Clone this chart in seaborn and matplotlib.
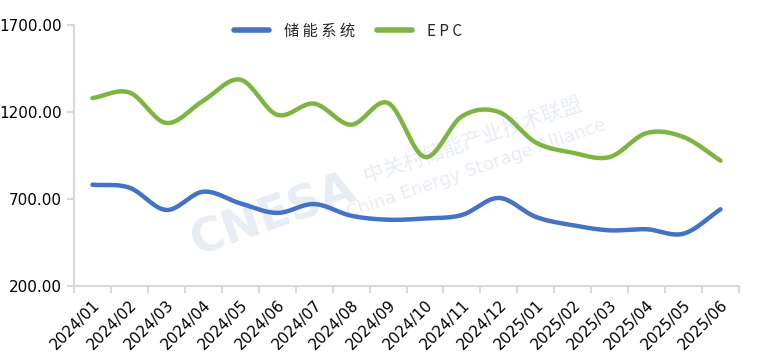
"""
储能系统 / EPC 中标均价走势图
"""

import numpy as np
import pandas as pd
import matplotlib
matplotlib.use('Agg')
import matplotlib.pyplot as plt
from matplotlib.ticker import FixedLocator
import seaborn as sns

sns.set_theme(style='white')
plt.rcParams['font.family'] = ['Noto Sans CJK SC', 'DejaVu Sans']

# 数据
months = ['2024/01', '2024/02', '2024/03', '2024/04', '2024/05', '2024/06',
          '2024/07', '2024/08', '2024/09', '2024/10', '2024/11', '2024/12',
          '2025/01', '2025/02', '2025/03', '2025/04', '2025/05', '2025/06']
storage_system = [782, 765, 637, 742, 675, 620, 671, 604, 581, 588, 608, 706,
                  597, 549, 520, 526, 501, 641]
epc = [1280, 1312, 1137, 1265, 1386, 1184, 1248, 1127, 1252, 941, 1175, 1200,
       1025, 966, 941, 1079, 1056, 920]
y_ticks = [200, 700, 1200, 1700]

COLOR_BLUE = '#4472C4'
COLOR_GREEN = '#7DB543'
AXIS_GRAY = '#D9D9D9'
MARK_COLOR = '#E8EDF4'


def smooth(x, y, n=20):
    """Catmull-Rom 平滑 (类似 Excel 平滑线)"""
    x = np.asarray(x, float)
    y = np.asarray(y, float)
    px = np.concatenate([[2 * x[0] - x[1]], x, [2 * x[-1] - x[-2]]])
    py = np.concatenate([[2 * y[0] - y[1]], y, [2 * y[-1] - y[-2]]])
    xs, ys = [], []
    t = np.linspace(0, 1, n, endpoint=False)
    for i in range(1, len(px) - 2):
        for p, out in ((px, xs), (py, ys)):
            p0, p1, p2, p3 = p[i - 1], p[i], p[i + 1], p[i + 2]
            out.append(0.5 * (2 * p1 + (-p0 + p2) * t
                              + (2 * p0 - 5 * p1 + 4 * p2 - p3) * t ** 2
                              + (-p0 + 3 * p1 - 3 * p2 + p3) * t ** 3))
    xs.append([x[-1]])
    ys.append([y[-1]])
    return np.concatenate(xs), np.concatenate(ys)


fig = plt.figure(figsize=(7.74, 3.63), dpi=100)
ax = fig.add_axes([74 / 774, 1 - 286 / 363, (739 - 74) / 774, (286 - 25) / 363])

idx = np.arange(len(months))
frames = []
for name, vals in (('储能系统', storage_system), ('EPC', epc)):
    sx, sy = smooth(idx, vals)
    frames.append(pd.DataFrame({'x': sx, 'y': sy, 'series': name}))
df = pd.concat(frames, ignore_index=True)

sns.lineplot(data=df, x='x', y='y', hue='series', sort=False,
             palette={'储能系统': COLOR_BLUE, 'EPC': COLOR_GREEN},
             lw=3.2, ax=ax, legend=False, solid_capstyle='round')

# 水印
ax.text(0.30, 0.27, 'CNESA', transform=ax.transAxes, fontsize=33,
        fontweight='bold', color=MARK_COLOR, rotation=19, ha='center',
        va='center', family='DejaVu Sans', zorder=0)
ax.text(0.60, 0.56, '中关村储能产业技术联盟', transform=ax.transAxes,
        fontsize=15, color=MARK_COLOR, rotation=19, ha='center', va='center',
        zorder=0)
ax.text(0.605, 0.45, 'China Energy Storage Alliance', transform=ax.transAxes,
        fontsize=13, color=MARK_COLOR, rotation=19, ha='center', va='center',
        family='DejaVu Sans', zorder=0)

ax.set_xlim(-0.5, len(months) - 0.5)
ax.set_ylim(200, 1700)
ax.set_xticks(idx)
ax.set_xticklabels(months, rotation=45, ha='right', rotation_mode='anchor',
                   fontsize=11, color='black', family='DejaVu Sans')
ax.xaxis.set_minor_locator(FixedLocator(np.arange(-0.5, len(months), 1)))
ax.set_yticks(y_ticks)
ax.set_yticklabels(['{:.2f}'.format(v) for v in y_ticks], fontsize=11,
                   color='black', family='DejaVu Sans')
ax.tick_params(axis='x', which='major', length=0, pad=8)
ax.tick_params(axis='x', which='minor', length=5, width=1.5, color=AXIS_GRAY,
               bottom=True)
ax.tick_params(axis='y', length=5, width=1.5, color=AXIS_GRAY, left=True,
               pad=4)
ax.set_xlabel('')
ax.set_ylabel('')

for s in ('top', 'right'):
    ax.spines[s].set_visible(False)
for s in ('left', 'bottom'):
    ax.spines[s].set_color(AXIS_GRAY)
    ax.spines[s].set_linewidth(1.5)

handles = [plt.Line2D([], [], color=COLOR_BLUE, lw=4),
           plt.Line2D([], [], color=COLOR_GREEN, lw=4)]
fig.legend(handles, ['储 能 系 统', 'E P C'], loc='center',
           bbox_to_anchor=(348 / 774, 1 - 31 / 363), ncol=2, frameon=False,
           fontsize=11, handlelength=2.3, columnspacing=1.4,
           handletextpad=1.0)

fig.savefig('out.png', dpi=100)
